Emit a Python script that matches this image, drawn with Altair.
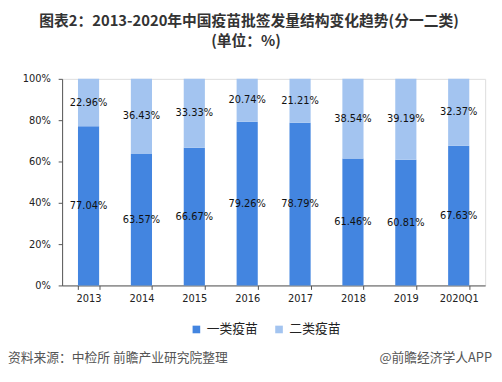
import altair as alt
import pandas as pd

years = ["2013", "2014", "2015", "2016", "2017", "2018", "2019", "2020Q1"]
class1 = [77.04, 63.57, 66.67, 79.26, 78.79, 61.46, 60.81, 67.63]
class2 = [22.96, 36.43, 33.33, 20.74, 21.21, 38.54, 39.19, 32.37]
series = ["一类疫苗", "二类疫苗"]
colors = ["#4385E0", "#A3C4F0"]

rows = []
for i, y in enumerate(years):
    rows.append({"year": y, "series": series[0], "order": 0, "value": class1[i]})
    rows.append({"year": y, "series": series[1], "order": 1, "value": class2[i]})
df = pd.DataFrame(rows)

FONT = "DejaVu Sans"
CJK = "Noto Sans CJK SC"

x = alt.X("year:N", sort=years, title=None,
          scale=alt.Scale(paddingInner=0.6, paddingOuter=0.3),
          axis=alt.Axis(labelAngle=0, labelFont=FONT, labelFontSize=10, labelColor="#222",
                        domainColor="#555", tickColor="#555", tickSize=4, tickBand="extent",
                        labelPadding=4))

base = alt.Chart(df)

bars = base.mark_bar().encode(
    x=x,
    y=alt.Y("value:Q", stack="zero", title=None,
            scale=alt.Scale(domain=[0, 100]),
            axis=alt.Axis(values=[0, 20, 40, 60, 80, 100], labelExpr="datum.value + '%'",
                          labelFont=FONT, labelFontSize=10, labelColor="#222",
                          domainColor="#555", tickColor="#555", tickSize=4, grid=False,
                          labelPadding=8)),
    color=alt.Color("series:N", scale=alt.Scale(domain=series, range=colors),
                    legend=alt.Legend(title=None, orient="none", direction="horizontal",
                                      legendX=130, legendY=248, symbolType="square",
                                      symbolSize=60, symbolStrokeWidth=0,
                                      labelFont=CJK, labelFontSize=13, labelColor="#222",
                                      columnPadding=14, labelOffset=4)),
    order=alt.Order("order:Q"),
)

labels = base.transform_stack(
    stack="value", groupby=["year"], as_=["v0", "v1"],
    sort=[alt.SortField("order", order="ascending")]
).transform_calculate(
    mid="(datum.v0 + datum.v1) / 2",
    label="format(datum.value, '.2f') + '%'"
).mark_text(font=FONT, fontSize=10, color="#111").encode(
    x=alt.X("year:N", sort=years),
    y=alt.Y("mid:Q"),
    text="label:N",
)

def txt(s, xv, yv, size, align="center", weight="normal", color="#222", font=CJK):
    return alt.Chart(pd.DataFrame({"t": [s]})).mark_text(
        font=font, fontSize=size, fontWeight=weight, color=color, align=align, baseline="middle"
    ).encode(x=alt.value(xv), y=alt.value(yv), text="t:N")

title1 = txt("图表2：2013-2020年中国疫苗批签发量结构变化趋势(分一二类)", 190, -59, 15, weight="bold", color="#333")
title2 = txt("(单位：%)", 187, -38, 15, weight="bold", color="#333")
foot1 = txt("资料来源：中检所 前瞻产业研究院整理", -55, 284, 13, align="left", color="#555")
foot2 = txt("@前瞻经济学人APP", 437, 284, 13, align="right", color="#555")

chart = alt.layer(bars, labels, title1, title2, foot1, foot2).properties(
    width=430, height=210,
    autosize=alt.AutoSizeParams(type="none"),
    padding={"left": 55, "top": 69, "right": 9, "bottom": 87},
).configure_view(stroke=None).configure(background="white")

chart.save("out.html", embed_options={"renderer": "svg", "actions": False})
